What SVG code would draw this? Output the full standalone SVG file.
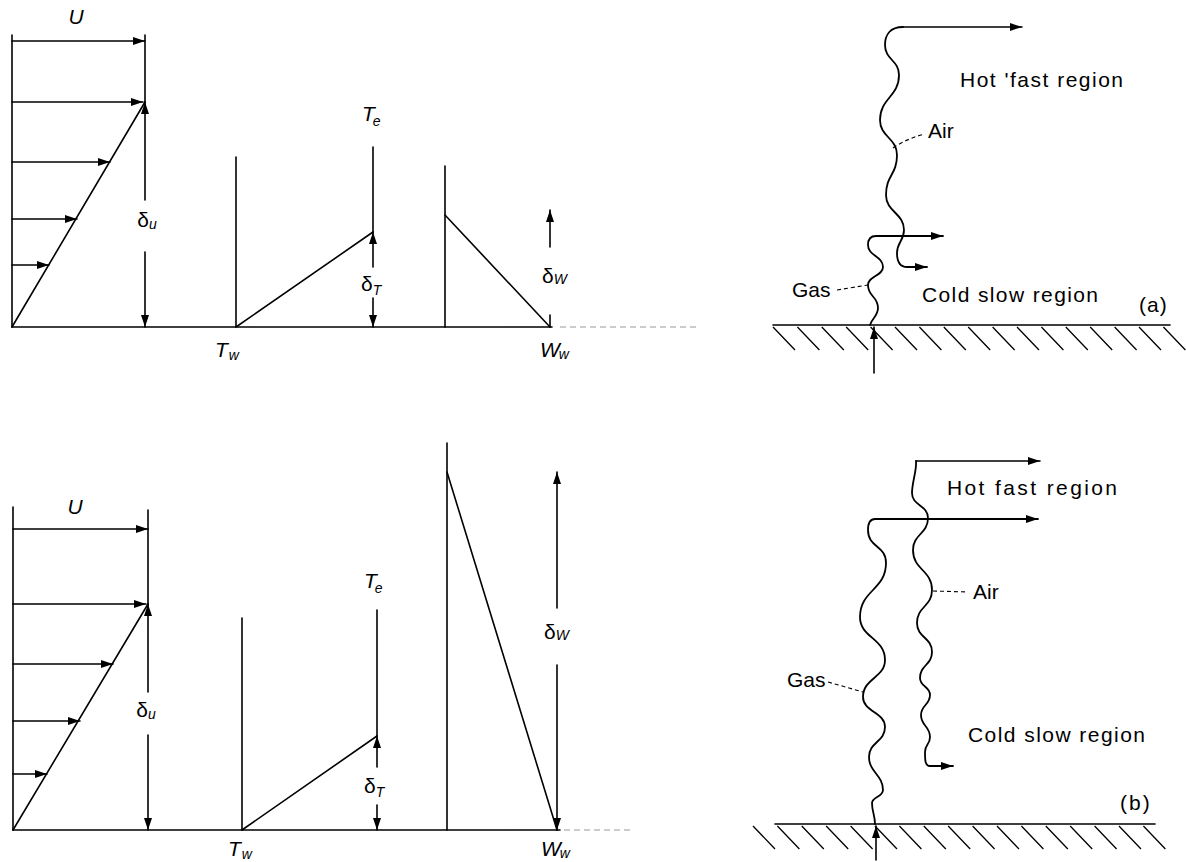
<svg xmlns="http://www.w3.org/2000/svg" width="1186" height="862" viewBox="0 0 1186 862">
<style>
  .ln { stroke:#000; stroke-width:1.6; fill:none; stroke-linecap:round; }
  .wv { stroke:#000; stroke-width:1.8; fill:none; stroke-linecap:round; stroke-linejoin:round; }
  .hatch { stroke:#000; stroke-width:1.3; fill:none; }
  .faint { stroke:#999; stroke-width:1; fill:none; stroke-dasharray:6 4; }
  .lead { stroke:#000; stroke-width:1.1; fill:none; stroke-dasharray:4 3; }
  .lbl { font-family:"Liberation Sans", Arial, sans-serif; font-size:21px; fill:#000; }
  .it { font-family:"Liberation Sans", Arial, sans-serif; font-style:italic; font-size:21px; fill:#000; }
  .gr { font-family:"Liberation Sans", Arial, sans-serif; font-size:21px; fill:#000; }
  .sub { font-style:italic; font-size:14px; }
</style>
<defs>
  <marker id="ah" viewBox="0 0 12 8" refX="12" refY="4" markerWidth="12" markerHeight="8" markerUnits="userSpaceOnUse" orient="auto">
    <path d="M0,0 L12,4 L0,8 z" fill="#000"/>
  </marker>
</defs>

<!-- Top-left: velocity profile -->
<g id="top-velocity">
  <line class="ln" x1="12" y1="35" x2="12" y2="327"/>
  <line class="ln" x1="145" y1="35" x2="145" y2="102"/>
  <line class="ln" x1="145" y1="200" x2="145" y2="102" marker-end="url(#ah)"/>
  <line class="ln" x1="145" y1="252" x2="145" y2="327" marker-end="url(#ah)"/>
  <line class="ln" x1="12" y1="41" x2="145" y2="41" marker-end="url(#ah)"/>
  <line class="ln" x1="12" y1="102" x2="143" y2="102" marker-end="url(#ah)"/>
  <line class="ln" x1="12" y1="162" x2="110" y2="162" marker-end="url(#ah)"/>
  <line class="ln" x1="12" y1="219" x2="77" y2="219" marker-end="url(#ah)"/>
  <line class="ln" x1="12" y1="265" x2="49" y2="265" marker-end="url(#ah)"/>
  <line class="ln" x1="12" y1="327" x2="145" y2="102"/>
  <text class="it" x="76" y="24" text-anchor="middle">U</text>
  <text class="gr" x="147" y="227" text-anchor="middle">δ<tspan class="sub" dy="2">u</tspan></text>
</g>

<g id="top-baseline">
  <line class="ln" x1="12" y1="327" x2="552" y2="327"/>
  <line class="faint" x1="560" y1="327" x2="700" y2="327"/>
</g>

<!-- Top temperature profile -->
<g id="top-temperature">
  <line class="ln" x1="236" y1="157" x2="236" y2="327"/>
  <line class="ln" x1="236" y1="327" x2="373" y2="232"/>
  <line class="ln" x1="373" y1="147" x2="373" y2="232"/>
  <line class="ln" x1="373" y1="267" x2="373" y2="232" marker-end="url(#ah)"/>
  <line class="ln" x1="373" y1="298" x2="373" y2="327" marker-end="url(#ah)"/>
  <text class="it" x="362" y="121">T<tspan class="sub" dx="-2" dy="5">e</tspan></text>
  <text class="gr" x="361" y="291">δ<tspan class="sub" dy="4" font-size="13">T</tspan></text>
  <text class="it" x="215" y="357">T<tspan class="sub" dx="1" dy="3">w</tspan></text>
</g>

<!-- Top concentration profile -->
<g id="top-concentration">
  <line class="ln" x1="445" y1="166" x2="445" y2="327"/>
  <line class="ln" x1="445" y1="215" x2="550" y2="327"/>
  <line class="ln" x1="550" y1="247" x2="550" y2="210" marker-end="url(#ah)"/>
  <line class="ln" x1="550" y1="315" x2="550" y2="327"/>
  <text class="gr" x="542" y="283">δ<tspan class="sub" dy="1" font-size="15">W</tspan></text>
  <text class="it" x="540" y="357">W<tspan class="sub" dx="-1" dy="2">w</tspan></text>
</g>

<!-- Bottom-left velocity profile -->
<g id="bottom-velocity">
  <line class="ln" x1="13" y1="507" x2="13" y2="830"/>
  <line class="ln" x1="148" y1="510" x2="148" y2="604"/>
  <line class="ln" x1="148" y1="692" x2="148" y2="604" marker-end="url(#ah)"/>
  <line class="ln" x1="148" y1="735" x2="148" y2="830" marker-end="url(#ah)"/>
  <line class="ln" x1="13" y1="529" x2="148" y2="529" marker-end="url(#ah)"/>
  <line class="ln" x1="13" y1="604" x2="146" y2="604" marker-end="url(#ah)"/>
  <line class="ln" x1="13" y1="664" x2="113" y2="664" marker-end="url(#ah)"/>
  <line class="ln" x1="13" y1="721" x2="80" y2="721" marker-end="url(#ah)"/>
  <line class="ln" x1="13" y1="774" x2="47" y2="774" marker-end="url(#ah)"/>
  <line class="ln" x1="13" y1="830" x2="148" y2="604"/>
  <text class="it" x="75" y="514" text-anchor="middle">U</text>
  <text class="gr" x="146" y="717" text-anchor="middle">δ<tspan class="sub" dy="2">u</tspan></text>
</g>

<g id="bottom-baseline">
  <line class="ln" x1="13" y1="830" x2="560" y2="830"/>
  <line class="faint" x1="564" y1="830" x2="630" y2="830"/>
</g>

<!-- Bottom temperature profile -->
<g id="bottom-temperature">
  <line class="ln" x1="242" y1="618" x2="242" y2="830"/>
  <line class="ln" x1="242" y1="830" x2="377" y2="736"/>
  <line class="ln" x1="377" y1="610" x2="377" y2="736"/>
  <line class="ln" x1="377" y1="767" x2="377" y2="736" marker-end="url(#ah)"/>
  <line class="ln" x1="377" y1="805" x2="377" y2="830" marker-end="url(#ah)"/>
  <text class="it" x="364" y="588">T<tspan class="sub" dx="-2" dy="5">e</tspan></text>
  <text class="gr" x="364" y="793">δ<tspan class="sub" dy="4" font-size="13">T</tspan></text>
  <text class="it" x="228" y="856">T<tspan class="sub" dx="1" dy="3">w</tspan></text>
</g>

<!-- Bottom concentration profile -->
<g id="bottom-concentration">
  <line class="ln" x1="447" y1="443" x2="447" y2="830"/>
  <line class="ln" x1="447" y1="472" x2="557" y2="830"/>
  <line class="ln" x1="557" y1="608" x2="557" y2="472" marker-end="url(#ah)"/>
  <line class="ln" x1="557" y1="665" x2="557" y2="830" marker-end="url(#ah)"/>
  <text class="gr" x="544" y="639">δ<tspan class="sub" dy="1" font-size="15">W</tspan></text>
  <text class="it" x="541" y="856">W<tspan class="sub" dx="-1" dy="2">w</tspan></text>
</g>

<!-- Panel (a) -->
<g id="panel-a">
  <line class="ln" x1="773" y1="325" x2="1170" y2="325"/>
  <path class="hatch" d="M773,327 l22,23 M797.4,327 l22,23 M821.8,327 l22,23 M846.2,327 l22,23 M870.6,327 l22,23 M895,327 l22,23 M919.4,327 l22,23 M943.8,327 l22,23 M968.2,327 l22,23 M992.6,327 l22,23 M1017,327 l22,23 M1041.4,327 l22,23 M1065.8,327 l22,23 M1090.2,327 l22,23 M1114.6,327 l22,23 M1139,327 l22,23 M1163.4,327 l22,23"/>
  <line class="ln" x1="874" y1="373" x2="874" y2="327" marker-end="url(#ah)"/>
  <line class="ln" x1="903" y1="27" x2="1022" y2="27" marker-end="url(#ah)"/>
  <path class="wv" d="M903,27 C890,27 885,35 885,45 C885,60 899,60 899,75 C899,97 880,98 880,120 C880,137 897,138 897,155 C897,175 886,175 886,195 C886,212 904,213 904,230 C904,241 897,242 897,253 C897,262 900,267 907,267 L927,267" marker-end="url(#ah)"/>
  <path class="wv" d="M870,325 C872,318 878,316 878,308 C878,296 868,297 868,285 C868,276 883,276 883,267 C883,256 868,256 868,245 C868,240 870,236 876,236 L943,236" marker-end="url(#ah)"/>
  <path class="lead" d="M893,148 Q908,138 925,134"/>
  <path class="lead" d="M837,290 L868,285"/>
  <text class="lbl" x="960" y="87" textLength="163" lengthAdjust="spacing">Hot 'fast region</text>
  <text class="lbl" x="928" y="138">Air</text>
  <text class="lbl" x="792" y="297">Gas</text>
  <text class="lbl" x="922" y="302" textLength="176" lengthAdjust="spacing">Cold slow region</text>
  <text class="lbl" x="1139" y="312" letter-spacing="1">(a)</text>
</g>

<!-- Panel (b) -->
<g id="panel-b">
  <line class="ln" x1="775" y1="824" x2="1155" y2="824"/>
  <path class="hatch" d="M753,826 l22,23 M777.4,826 l22,23 M801.8,826 l22,23 M826.2,826 l22,23 M850.6,826 l22,23 M875,826 l22,23 M899.4,826 l22,23 M923.8,826 l22,23 M948.2,826 l22,23 M972.6,826 l22,23 M997,826 l22,23 M1021.4,826 l22,23 M1045.8,826 l22,23 M1070.2,826 l22,23 M1094.6,826 l22,23 M1119,826 l22,23 M1143.4,826 l22,23"/>
  <line class="ln" x1="876" y1="860" x2="876" y2="826" marker-end="url(#ah)"/>
  <line class="ln" x1="916" y1="461" x2="1040" y2="461" marker-end="url(#ah)"/>
  <path class="wv" d="M875,824 C875,815 872,812 872,803 C872,797 883,797 883,790 C883,775 869,772 869,757 C869,742 885,742 885,727 C885,712 863,712 863,697 C863,678 885,678 885,660 C885,638 860,638 860,617 C860,590 886,590 886,563 C886,545 868,548 868,530 C868,524 870,519 875,519 L1038,519" marker-end="url(#ah)"/>
  <path class="wv" d="M916,461 C917,470 912,482 912,493 C912,506 928,505 928,518 C928,534 913,534 913,550 C913,570 932,570 932,590 C932,607 917,606 917,623 C917,638 932,637 932,652 C932,665 920,665 920,678 C920,687 930,686 930,695 C930,705 921,705 921,715 C921,726 930,726 930,737 C930,745 925,744 925,752 C925,760 925,766 930,766 L953,766" marker-end="url(#ah)"/>
  <path class="lead" d="M933,591 L968,592"/>
  <path class="lead" d="M828,682 L863,692"/>
  <text class="lbl" x="947" y="495" textLength="170" lengthAdjust="spacing">Hot fast region</text>
  <text class="lbl" x="973" y="599">Air</text>
  <text class="lbl" x="787" y="687">Gas</text>
  <text class="lbl" x="968" y="742" textLength="177" lengthAdjust="spacing">Cold slow region</text>
  <text class="lbl" x="1120" y="810" letter-spacing="2">(b)</text>
</g>
</svg>
